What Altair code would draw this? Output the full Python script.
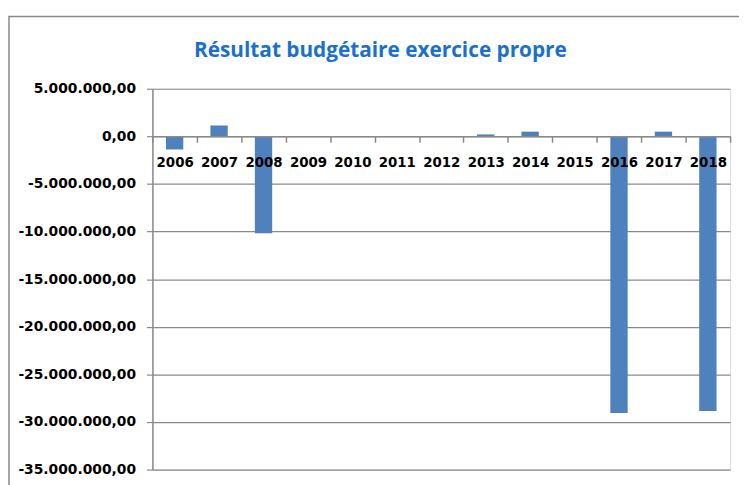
import altair as alt
import pandas as pd

# Data
years = ["2006", "2007", "2008", "2009", "2010", "2011", "2012",
         "2013", "2014", "2015", "2016", "2017", "2018"]
values = [-1380000, 1140000, -10170000, 0, 0, 0, 0,
          200000, 490000, 0, -29060000, 490000, -28860000]
y_ticks = [5000000, 0, -5000000, -10000000, -15000000, -20000000,
           -25000000, -30000000, -35000000]
title_text = "Résultat budgétaire exercice propre"

Y_MIN, Y_MAX = -35000000, 5000000
W, H = 584, 385
GREY = "#8a8a8a"

df = pd.DataFrame({"year": years, "value": values})
frame_df = pd.DataFrame({"k": [0]})
title_df = pd.DataFrame({"t": [title_text]})

# x axis sits on the zero line
zero_offset = -H * (0 - Y_MIN) / (Y_MAX - Y_MIN)

frame = alt.Chart(frame_df).mark_rect(
    fillOpacity=0, stroke=GREY, strokeWidth=1.5
).encode(
    x=alt.value(-145), x2=alt.value(640),
    y=alt.value(-73), y2=alt.value(440),
)

title = alt.Chart(title_df).mark_text(
    font="Open Sans", fontSize=21, fontWeight="bold", color="#1870D0",
    align="center", baseline="alphabetic"
).encode(
    x=alt.value(230.5), y=alt.value(-32.5), text="t:N"
)

bars = alt.Chart(df).mark_bar(
    color="#4F81BD", width=alt.RelativeBandSize(0.39)
).encode(
    x=alt.X("year:N", sort=years,
            scale=alt.Scale(paddingInner=0, paddingOuter=0),
            axis=alt.Axis(title=None, labelAngle=0, grid=False,
                          labelFont="DejaVu Sans", labelFontWeight="bold",
                          labelFontSize=13.5, labelColor="black",
                          domainColor=GREY, domainWidth=1.5,
                          tickColor=GREY, tickWidth=1.5, tickSize=6,
                          tickBand="extent", labelPadding=13,
                          offset=zero_offset, zindex=1)),
    y=alt.Y("value:Q",
            scale=alt.Scale(domain=[Y_MIN, Y_MAX], nice=False, zero=False),
            axis=alt.Axis(title=None, values=y_ticks, format=",.2f",
                          grid=True, gridColor=GREY, gridWidth=1.2,
                          domainColor=GREY, domainWidth=1.5,
                          tickColor=GREY, tickWidth=1.2, tickSize=6,
                          labelPadding=11, labelFont="DejaVu Sans",
                          labelFontWeight="bold", labelFontSize=14,
                          labelColor="black", zindex=0)),
)

chart = alt.layer(frame, title, bars).properties(
    width=W, height=H,
    autosize=alt.AutoSizeParams(type="none"),
    padding={"left": 146, "top": 79, "right": 9, "bottom": 13},
).configure_view(stroke=None).configure(
    locale={"number": {"decimal": ",", "thousands": ".", "grouping": [3],
                       "currency": ["", ""], "minus": "-"}}
)

chart.save("out.html", embed_options={"renderer": "svg", "actions": False})
